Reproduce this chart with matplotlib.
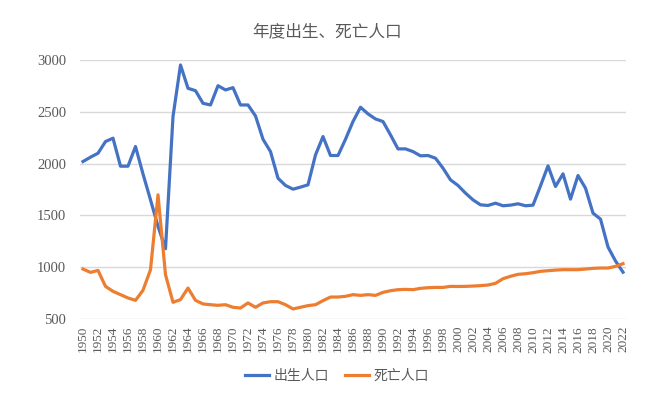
import matplotlib
matplotlib.use("Agg")
import matplotlib.pyplot as plt

years = list(range(1950, 2023))
births = [2020, 2062, 2100, 2213, 2245, 1975, 1975, 2165, 1900, 1650, 1395, 1178,
          2454, 2952, 2727, 2704, 2582, 2566, 2752, 2711, 2733, 2566, 2566, 2460,
          2235, 2116, 1859, 1789, 1753, 1773, 1795, 2084, 2261, 2078, 2078, 2235,
          2406, 2544, 2480, 2431, 2406, 2277, 2142, 2142, 2116, 2075, 2078, 2052,
          1956, 1843, 1789, 1715, 1650, 1602, 1596, 1618, 1593, 1599, 1612, 1593,
          1599, 1785, 1978, 1779, 1901, 1657, 1885, 1763, 1522, 1464, 1195, 1060,
          952]
deaths = [982, 950, 969, 815, 767, 735, 703, 680, 777, 976, 1699, 928,
          661, 687, 799, 680, 645, 638, 632, 638, 613, 606, 655, 613,
          655, 667, 667, 638, 597, 613, 629, 638, 677, 712, 712, 719,
          735, 728, 735, 728, 757, 773, 783, 786, 783, 796, 802, 805,
          805, 815, 814, 815, 818, 822, 828, 844, 889, 912, 931, 937,
          947, 960, 966, 972, 976, 976, 976, 982, 989, 992, 992, 1008,
          1034]
series_names = ["出生人口", "死亡人口"]
title = "年度出生、死亡人口"
yticks = [500, 1000, 1500, 2000, 2500, 3000]

fig = plt.figure(figsize=(6.55, 3.98), dpi=100)
ax = fig.add_axes([80/655, 1-319/398, 546/655, (319-60)/398])

ax.plot(years, births, color="#4472C4", lw=2.3, label=series_names[0], solid_joinstyle="round")
ax.plot(years, deaths, color="#ED7D31", lw=2.3, label=series_names[1], solid_joinstyle="round")

ax.set_xlim(1949.6, 2022.4)
ax.set_ylim(500, 3000)
ax.set_yticks(yticks)
ax.set_xticks(years[::2])
ax.set_xticklabels([str(y) for y in years[::2]], rotation=90, family="Liberation Serif",
                   fontsize=9.5, color="#595959")
ax.set_yticklabels([str(v) for v in yticks], family="Liberation Serif",
                   fontsize=10.5, color="#595959")
ax.tick_params(axis="both", length=0)
ax.tick_params(axis="x", pad=5)
ax.tick_params(axis="y", pad=10)
for s in ax.spines.values():
    s.set_visible(False)
ax.grid(axis="y", color="#D9D9D9", lw=1)
ax.set_axisbelow(True)

fig.text(0.5, 1-32/398, title, ha="center", va="center", fontsize=12,
         color="#595959", family=["Noto Sans CJK SC", "DejaVu Sans"])

leg = fig.legend(loc="center", bbox_to_anchor=(337/655, 1-376/398), ncol=2, frameon=False,
                 prop={"family": ["Noto Sans CJK SC"], "size": 10},
                 handlelength=1.7, columnspacing=1.2, handletextpad=0.3)
for t in leg.get_texts():
    t.set_color("#595959")

fig.savefig("out.png", dpi=100)
